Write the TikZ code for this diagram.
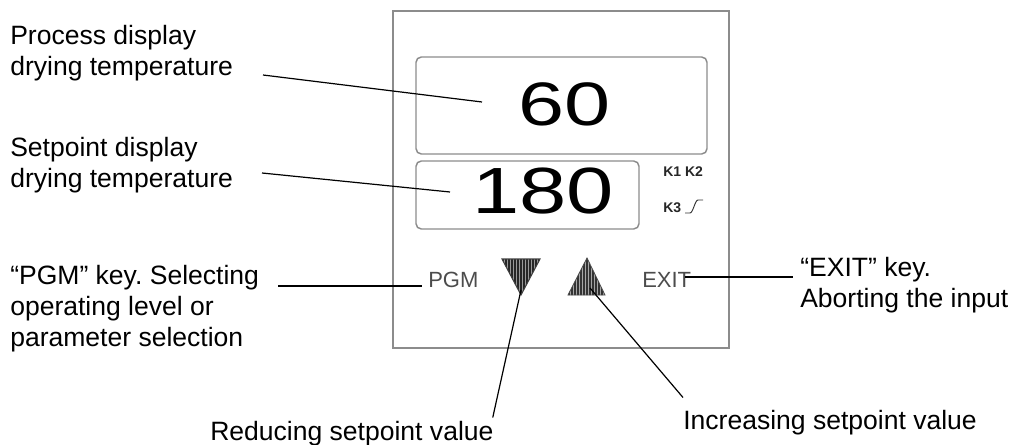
\documentclass[tikz,border=0pt]{standalone}
\usepackage{fontspec}
\setmainfont{Liberation Sans}
\usepackage{graphicx}
\usetikzlibrary{positioning,calc}
\frenchspacing

\begin{document}
\begin{tikzpicture}[x=0.75pt, y=-0.75pt,
  lbl/.style={font=\fontsize{19.9}{23.2}\selectfont, align=left, inner sep=0pt},
  keytext/.style={font=\fontsize{16.5}{18}\selectfont, text=black!70, inner sep=0pt},
  ktext/.style={font=\bfseries\fontsize{10.5}{12}\selectfont, text=black!85, inner sep=0pt},
  display/.style={draw=black!45, line width=1.1pt, rounded corners=4pt},
  digits/.style={font=\fontsize{46}{50}\selectfont, inner sep=0pt},
  leader/.style={line width=0.9pt}]

  \useasboundingbox (0,0) rectangle (1016,445);

  % front panel of the controller
  \draw[black!45, line width=1.5pt] (393,11) rectangle (729,348);
  \draw[display] (416,57) rectangle (707,154);   % process display
  \draw[display] (416,161) rectangle (639,229);  % setpoint display

  \node (procval) [digits] at (565,104) {\scalebox{1.35}[1]{60}};
  \node (setval) [digits, font=\fontsize{49}{52}\selectfont] at (543,191.5) {\scalebox{1.3}[1]{180}};

  \node (kone) [ktext, anchor=base west] at (663,177) {K1 K2};
  \node (kthree) [ktext, anchor=base west] at (663,213) {K3};
  \draw[black!80, line width=0.7pt] (685,213) -- (690,213) .. controls (693,213) and (695,200) .. (698,200) -- (703,200);

  % keys
  \node (pgm) [keytext, anchor=base west] at (428,287) {PGM};
  \node (exitkey) [keytext, anchor=base west] at (642,287) {EXIT};

  \begin{scope} % down key
    \clip (502,259) -- (540,259) -- (521,295) -- cycle;
    \fill[black!40] (500,257) rectangle (542,297);
    \foreach \x in {503,506,...,539}
      \draw[black!85, line width=0.8pt] (\x,257) -- (\x,297);
  \end{scope}
  \draw[black!75, line width=0.8pt] (502,259) -- (540,259) -- (521,295) -- cycle;

  \begin{scope} % up key
    \clip (587,258) -- (605,295) -- (568,295) -- cycle;
    \fill[black!35] (566,256) rectangle (607,297);
    \foreach \x in {569,572,...,604}
      \draw[black!80, line width=0.8pt] (\x,256) -- (\x,297);
  \end{scope}
  \draw[black!70, line width=0.6pt] (587,258) -- (605,295) -- (568,295) -- cycle;

  % labels
  \node (proclbl) [lbl, anchor=north west] at (10,25.5) {Process display\\drying temperature};
  \node (setlbl) [lbl, anchor=north west] at (10,137.5) {Setpoint display\\drying temperature};
  \node (pgmlbl) [lbl, anchor=north west] at (10,265.5) {``PGM'' key. Selecting\\operating level or\\parameter selection};
  \node (exitlbl) [lbl, anchor=north west] at (800,257.5) {``EXIT'' key.\\Aborting the input};
  \node (redlbl) [lbl, anchor=base west] at (210,440) {Reducing setpoint value};
  \node (inclbl) [lbl, anchor=base west] at (683,429) {Increasing setpoint value};

  % connector ends
  \coordinate (procA) at (263,75);
  \coordinate (procB) at (482,102);
  \coordinate (setA) at (262,173);
  \coordinate (setB) at (450,192);
  \coordinate (pgmA) at (278,286);
  \coordinate (pgmB) at (422,286);
  \coordinate (exitA) at (685,277);
  \coordinate (exitB) at (793,277);
  \coordinate (downtip) at (521,290);
  \coordinate (uptip) at (590,288);

  \draw[leader] (procA) -- (procB);
  \draw[leader] (setA) -- (setB);
  \draw[leader] (pgmA) -- (pgmB);
  \draw[leader] (exitA) -- (exitB);
  \draw[leader] (downtip) -- ($(redlbl.north east)+(-1,-3)$);
  \draw[leader] (uptip) -- ($(inclbl.north west)+(0,-12)$);
\end{tikzpicture}
\end{document}
